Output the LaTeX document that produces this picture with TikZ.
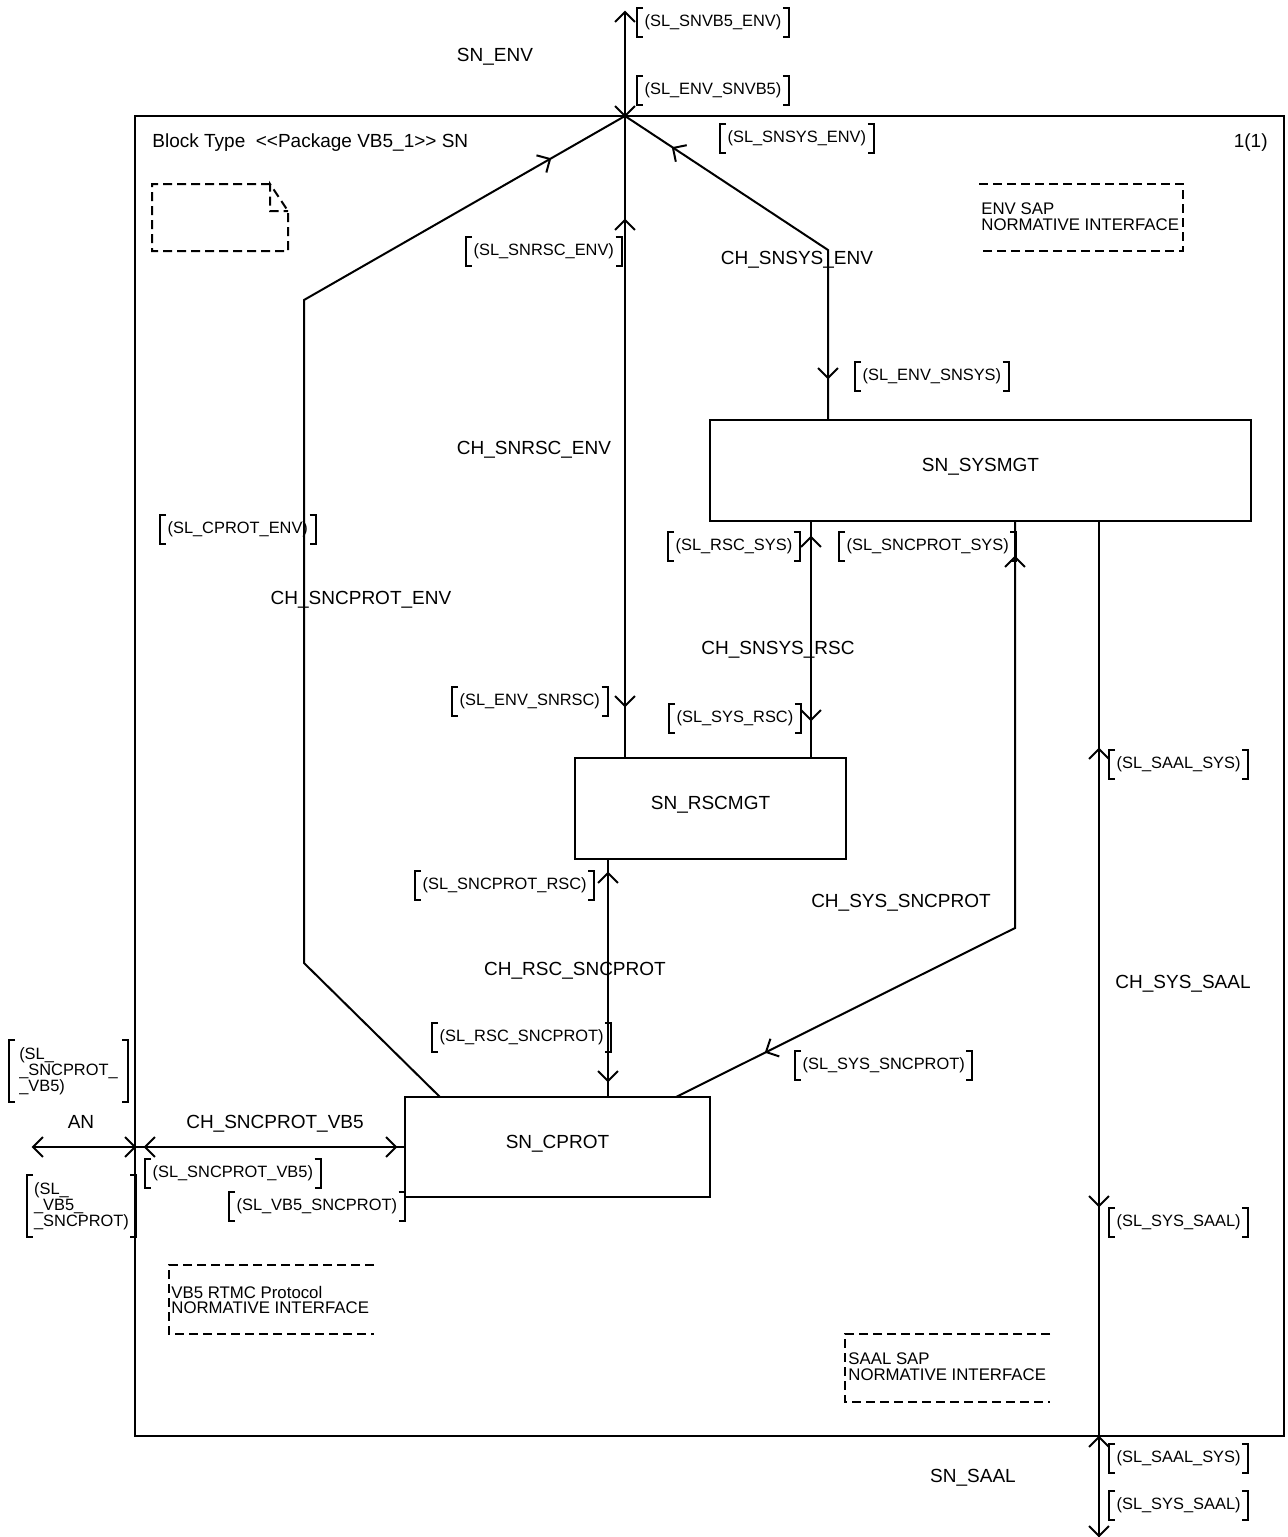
\documentclass[tikz,border=0pt]{standalone}
\usepackage{fontspec}
\setmainfont{Liberation Sans}
\usetikzlibrary{calc}

\newcommand\bigf{\fontsize{9.5}{11}\selectfont}
\newcommand\smf{\fontsize{8.2}{7.9}\selectfont}
\newcommand\notef{\fontsize{8.4}{7.9}\selectfont}

% open chevron arrow head: tip position, pointing direction (screen angle)
\newcommand\chev[2]{\draw[chan] (#1) ++(#2+135:14) -- (#1) -- ++(#2-135:14);}
% bracketed signal list
\newcommand\sig[4][]{%
  \node[sigl,#1] (#2) at (#3) {#4};
  \draw[brk] (#2.north west) ++(6,0) -- (#2.north west) -- (#2.south west) -- ++(6,0);
  \draw[brk] (#2.north east) ++(-6,0) -- (#2.north east) -- (#2.south east) -- ++(-6,0);
}

\begin{document}
\begin{tikzpicture}[x=0.5pt,y=-0.5pt,
  chan/.style={line width=1pt},
  brk/.style={line width=1pt},
  dashline/.style={line width=1pt,dash pattern=on 4.5pt off 2.5pt},
  blockbox/.style={draw,line width=1pt,outer sep=0pt,font=\bigf,text height=7pt,text depth=6pt,inner sep=0pt},
  chlabel/.style={font=\bigf,inner sep=0pt,text height=6.8pt,text depth=0pt},
  sigl/.style={anchor=north west,inner xsep=3.8pt,inner ysep=0pt,minimum height=14.5pt,font=\smf,outer sep=0pt,align=left},
  multisig/.style={minimum height=31pt,inner xsep=0pt},
  notetext/.style={font=\notef,inner sep=0pt,anchor=west,align=left}]
\useasboundingbox (0,0) rectangle (1287,1537);

% block frame
\node[draw,line width=1pt,outer sep=0pt,inner sep=0pt,minimum width=574.5pt,minimum height=660pt,anchor=north west] (frame) at (135,116) {};
\node[chlabel,anchor=west] (title) at (152,141) {Block Type\ \ <{}<Package VB5\_1>{}> SN};
\node[chlabel,anchor=east] (page) at (1268,141) {1(1)};

% processes
\node[blockbox,minimum width=270.5pt,minimum height=50.5pt] (sys) at (980.5,470.5) {SN\_SYSMGT};
\node[blockbox,minimum width=135.5pt,minimum height=50.5pt] (rsc) at (710.5,808.5) {SN\_RSCMGT};
\node[blockbox,minimum width=152.5pt,minimum height=50pt] (cprot) at (557.5,1147) {SN\_CPROT};

% junction points
\coordinate (J) at (625,116);
\coordinate (envtop) at (625,12);
\coordinate (b1) at (828,250);
\coordinate (c1) at (304,300);
\coordinate (c2) at (304,963);
\coordinate (d1) at (1015,928);
\coordinate (saalend) at (1099,1537);
\coordinate (anend) at (33,1147);

% channels
\draw[chan] (J) -- (envtop);
\draw[chan] (J) -- (rsc.north -| J);
\draw[chan] (J) -- (b1) -- (b1 |- sys.north);
\draw[chan] (J) -- (c1) -- (c2) -- ($(cprot.north west)+(35,0)$);
\draw[chan] ($(sys.south west)+(101,0)$) -- ($(rsc.north west)+(236,0)$);
\draw[chan] ($(sys.south west)+(305,0)$) -- (d1) -- ($(cprot.north west)+(271,0)$);
\draw[chan] ($(rsc.south west)+(33,0)$) -- ($(cprot.north west)+(203,0)$);
\draw[chan] ($(sys.south west)+(389,0)$) -- (saalend);
\draw[chan] (cprot.west) -- (cprot.west -| frame.west);
\draw[chan] (cprot.west -| frame.west) -- (anend);

% arrow heads
\chev{625,12}{270}
\chev{625,116}{90}
\chev{625,220}{270}
\chev{625,706}{90}
\chev{673,148}{213.4}
\chev{828,378}{90}
\chev{550,159}{330.2}
\chev{811,537}{270}
\chev{811,720}{90}
\chev{1015,557}{270}
\chev{766,1052}{153.5}
\chev{608,873}{270}
\chev{608,1081}{90}
\chev{1099,749}{270}
\chev{1099,1206}{90}
\chev{1099,1437}{270}
\chev{1099,1536}{90}
\chev{33,1147}{180}
\chev{135,1147}{0}
\chev{145,1147}{180}
\chev{396,1147}{0}

% channel names
\node[chlabel] (nenv) at (495,55) {SN\_ENV};
\node[chlabel] (nsysenv) at (797,258) {CH\_SNSYS\_ENV};
\node[chlabel] (nrscenv) at (534,448) {CH\_SNRSC\_ENV};
\node[chlabel] (ncprotenv) at (361,598) {CH\_SNCPROT\_ENV};
\node[chlabel] (nsysrsc) at (778,648) {CH\_SNSYS\_RSC};
\node[chlabel] (nsyscprot) at (901,901) {CH\_SYS\_SNCPROT};
\node[chlabel] (nrsccprot) at (575,969) {CH\_RSC\_SNCPROT};
\node[chlabel] (nsyssaal) at (1183,982) {CH\_SYS\_SAAL};
\node[chlabel] (nan) at (81,1122) {AN};
\node[chlabel] (nvb5) at (275,1122) {CH\_SNCPROT\_VB5};
\node[chlabel] (nsaal) at (973,1476) {SN\_SAAL};

% signal lists
\sig{s1}{637,8}{(SL\_SNVB5\_ENV)}
\sig{s2}{637,76}{(SL\_ENV\_SNVB5)}
\sig{s3}{720,124}{(SL\_SNSYS\_ENV)}
\sig{s4}{466,237}{(SL\_SNRSC\_ENV)}
\sig{s5}{855,362}{(SL\_ENV\_SNSYS)}
\sig{s6}{160,515}{(SL\_CPROT\_ENV)}
\sig{s7}{668,532}{(SL\_RSC\_SYS)}
\sig{s8}{839,532}{(SL\_SNCPROT\_SYS)}
\sig{s9}{452,687}{(SL\_ENV\_SNRSC)}
\sig{s10}{669,704}{(SL\_SYS\_RSC)}
\sig{s11}{1109,750}{(SL\_SAAL\_SYS)}
\sig{s12}{415,871}{(SL\_SNCPROT\_RSC)}
\sig{s13}{432,1023}{(SL\_RSC\_SNCPROT)}
\sig{s14}{795,1051}{(SL\_SYS\_SNCPROT)}
\sig[multisig,minimum width=59.5pt]{s15}{9,1040}{(SL\_\\\_SNCPROT\_\\\_VB5)}
\sig{s16}{145,1159}{(SL\_SNCPROT\_VB5)}
\sig{s17}{229,1192}{(SL\_VB5\_SNCPROT)}
\sig[multisig,minimum width=54.5pt]{s18}{27,1175}{(SL\_\\\_VB5\_\\\_SNCPROT)}
\sig{s19}{1109,1208}{(SL\_SYS\_SAAL)}
\sig{s20}{1109,1444}{(SL\_SAAL\_SYS)}
\sig{s21}{1109,1491}{(SL\_SYS\_SAAL)}

% comment symbol
\draw[dashline] (270,184) -- (152,184) -- (152,251) -- (288,251) -- (288,211) -- (270,184) -- (270,211) -- (288,211);

% text symbols
\draw[dashline] (979,184) -- (1183,184) -- (1183,251) -- (979,251);
\node[notetext] (tenv) at (981,217) {ENV SAP\\NORMATIVE INTERFACE};
\draw[dashline] (374,1265) -- (169,1265) -- (169,1334) -- (374,1334);
\node[notetext] (tvb5) at (171,1300) {VB5 RTMC Protocol\\NORMATIVE INTERFACE};
\draw[dashline] (1050,1334) -- (845,1334) -- (845,1402) -- (1050,1402);
\node[notetext] (tsaal) at (848,1367) {SAAL SAP\\NORMATIVE INTERFACE};
\end{tikzpicture}
\end{document}
